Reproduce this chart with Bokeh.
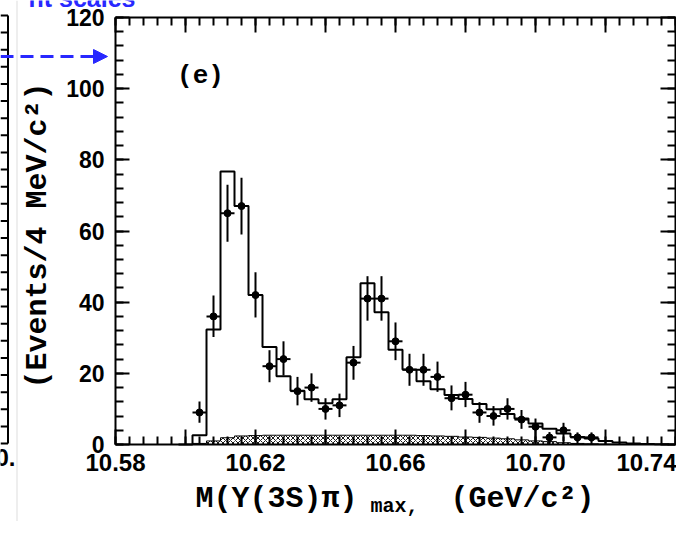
import numpy as np
from bokeh.plotting import figure
from bokeh.models import (Range1d, FixedTicker, LinearAxis, Arrow, Span,
                          NormalHead, CustomJSTickFormatter)
from bokeh.core.properties import value
from bokeh.embed import file_html
from bokeh.resources import INLINE

# ---------------- data ----------------
bin_width = 0.004
fit_first_edge = 10.602
fit_values = [2.6, 32.3, 76.7, 67.0, 42.0, 27.4, 19.2, 15.1, 12.7, 11.6,
              12.7, 24.5, 45.3, 37.2, 26.6, 21.1, 17.8, 15.5, 13.9, 12.8,
              11.4, 9.9, 8.6, 7.3, 5.9, 4.4, 3.1, 2.1, 1.7, 1.0,
              0.55, 0.3, 0.15, 0.1]
bkg_values = [0.3, 1.0, 1.9, 2.4, 2.5, 2.6, 2.6, 2.6, 2.6, 2.6,
              2.6, 2.6, 2.6, 2.6, 2.6, 2.6, 2.5, 2.4, 2.3, 2.1,
              2.0, 1.8, 1.6, 1.3, 1.0, 0.8, 0.5, 0.3, 0.2, 0.1,
              0.05, 0.0, 0.0, 0.0]
data_first_center = 10.604
data_y = [9, 36, 65, 67, 42, 22, 24, 15, 16, 10,
          11, 23, 41, 41, 29, 21, 21, 19, 13, 14,
          9, 8, 10, 7, 5, 2, 4, 2, 2]
data_lo = [6.1, 30.2, 57.0, 59.0, 35.7, 17.5, 19.4, 11.0, 12.0, 7.0,
           7.7, 18.2, 34.8, 34.8, 23.7, 16.5, 16.5, 14.8, 9.6, 10.5,
           6.1, 5.3, 7.0, 4.4, 0.5, 0.5, 1.0, 0.8, 0.8]
data_hi = [12.1, 41.9, 73.0, 75.0, 48.4, 26.5, 29.0, 19.0, 20.0, 13.0,
           14.3, 27.7, 47.3, 47.3, 34.3, 25.5, 25.5, 23.3, 16.6, 17.6,
           11.9, 10.8, 13.0, 9.7, 7.3, 3.5, 6.1, 3.4, 3.4]
x_major_ticks = [10.58, 10.60, 10.62, 10.64, 10.66, 10.68, 10.70, 10.72, 10.74]
x_minor_ticks = [round(10.58 + 0.004 * i, 3) for i in range(41)]
y_major_ticks = [0, 20, 40, 60, 80, 100, 120]
y_minor_ticks = list(range(0, 121, 4))

X0, X1 = 10.58, 10.74
Y0, Y1 = 0, 120
# plot box in canvas pixels
FL, FR, FT, FB = 115, 675, 17, 444
W, H = 676, 521


def dx(px):
    return X0 + (px - FL) * (X1 - X0) / (FR - FL)


def dy(py):
    return Y0 + (FB - py) * (Y1 - Y0) / (FB - FT)


p = figure(width=W, height=H,
           x_range=Range1d(dx(0), dx(W)), y_range=Range1d(dy(H), dy(0)),
           output_backend="svg", toolbar_location=None,
           min_border_left=0, min_border_right=0, min_border_top=0, min_border_bottom=0)
p.title.visible = False
p.xgrid.visible = False
p.ygrid.visible = False
p.background_fill_color = "white"
p.border_fill_color = "white"
p.outline_line_color = None

MONO = "Liberation Mono"
SANS = "Liberation Sans"


def style_axis(ax, ticker, maj_in, min_in, loc, bounds):
    ax.ticker = ticker
    ax.fixed_location = loc
    ax.bounds = bounds
    ax.axis_line_width = 2
    ax.axis_line_color = "black"
    ax.major_tick_in = maj_in
    ax.major_tick_out = 0
    ax.minor_tick_in = min_in
    ax.minor_tick_out = 0
    ax.major_tick_line_width = 2
    ax.minor_tick_line_width = 2
    ax.major_tick_line_color = "black"
    ax.minor_tick_line_color = "black"


xa = p.xaxis[0]
style_axis(xa, FixedTicker(ticks=x_major_ticks, minor_ticks=x_minor_ticks), 15, 8, Y0, (X0, X1))
xa.formatter = CustomJSTickFormatter(
    code="const k = Math.round((tick - 10.58) / 0.02); return (k % 2 === 0) ? tick.toFixed(2) : '';")
xa.major_label_text_font = SANS
xa.major_label_text_font_style = "bold"
xa.major_label_text_font_size = "24px"
xa.major_label_text_color = "black"
xa.major_label_standoff = 9

ya = p.yaxis[0]
style_axis(ya, FixedTicker(ticks=y_major_ticks, minor_ticks=y_minor_ticks), 14, 8, X0, (Y0, Y1))
ya.major_label_text_font = SANS
ya.major_label_text_font_style = "bold"
ya.major_label_text_font_size = "23px"
ya.major_label_text_color = "black"
ya.major_label_standoff = 11

top = LinearAxis()
style_axis(top, FixedTicker(ticks=x_major_ticks, minor_ticks=x_minor_ticks), 15, 8, Y1, (X0, X1))
top.formatter = CustomJSTickFormatter(code="return '';")
top.major_label_text_font_size = "0px"
top.major_label_standoff = 0
p.add_layout(top, "above")

right = LinearAxis()
style_axis(right, FixedTicker(ticks=y_major_ticks, minor_ticks=y_minor_ticks), 15, 8, X1, (Y0, Y1))
right.formatter = CustomJSTickFormatter(code="return '';")
right.major_label_text_font_size = "0px"
right.major_label_standoff = 0
p.add_layout(right, "right")

# ---------------- histograms ----------------
n = len(fit_values)
left_edges = [fit_first_edge + bin_width * i for i in range(n)]
right_edges = [e + bin_width for e in left_edges]

p.quad(left=left_edges, right=right_edges, bottom=[0] * n, top=bkg_values,
       fill_color="white", line_color=None,
       hatch_pattern="x", hatch_color="black", hatch_scale=5, hatch_weight=0.9)
p.step(x=[fit_first_edge - bin_width] + left_edges + [right_edges[-1]],
       y=[0] + bkg_values + [0], mode="after", line_color="black", line_width=1)
p.step(x=[fit_first_edge - bin_width] + left_edges + [right_edges[-1]],
       y=[0] + fit_values + [0], mode="after", line_color="black", line_width=2)

# ---------------- data points ----------------
m = len(data_y)
cx = [data_first_center + bin_width * i for i in range(m)]
p.segment(x0=cx, y0=data_lo, x1=cx, y1=data_hi, line_color="black", line_width=2)
p.segment(x0=[c - bin_width / 2 for c in cx], y0=data_y,
          x1=[c + bin_width / 2 for c in cx], y1=data_y,
          line_color="black", line_width=2)
p.scatter(x=cx, y=data_y, size=7, marker="circle", fill_color="black", line_color="black")


# ---------------- texts ----------------
def txt(px, py, s, size, align="left", baseline="middle", angle=0.0,
        font=MONO, color="black"):
    p.text(x=[dx(px)], y=[dy(py)], text=[s], text_font=value(font),
           text_font_style="bold", text_font_size=size, text_align=align,
           text_baseline=baseline, angle=angle, text_color=color)


txt(200, 75, "(e)", "26px", align="center")
txt(37, 235, "(Events/4 MeV/c²)", "30px", align="center", angle=np.pi / 2)
txt(195, 498, "M(Υ(3S)π)", "30px")
txt(370, 506, "max,", "20px")
txt(450, 498, "(GeV/c²)", "30px")

# ---------------- neighbouring-panel remnants ----------------
BLUE = "#2828ff"
txt(28, -3, "nt scales", "25px", font=SANS, color=BLUE)
p.add_layout(Arrow(end=NormalHead(size=14, fill_color=BLUE, line_color=BLUE),
                   x_start=dx(0), y_start=dy(56), x_end=dx(107), y_end=dy(56),
                   line_color=BLUE, line_width=3, line_dash="13 7"))
p.add_layout(Span(location=dx(16.5), dimension="height", line_color="#dddddd", line_width=1))
nb_top, nb_bot, nb_n = 15, 443, 25
nb_y = [dy(nb_top + k * (nb_bot - nb_top) / nb_n) for k in range(nb_n + 1)]
p.segment(x0=[dx(0)] * len(nb_y), y0=nb_y, x1=[dx(7.5)] * len(nb_y), y1=nb_y,
          line_color="black", line_width=2)
p.segment(x0=[dx(7.5)], y0=[dy(nb_top)], x1=[dx(7.5)], y1=[dy(nb_bot)],
          line_color="black", line_width=2)
txt(15, 457, "0.", "24px", align="right", font=SANS)

open("out.html", "w").write(file_html(p, INLINE))
